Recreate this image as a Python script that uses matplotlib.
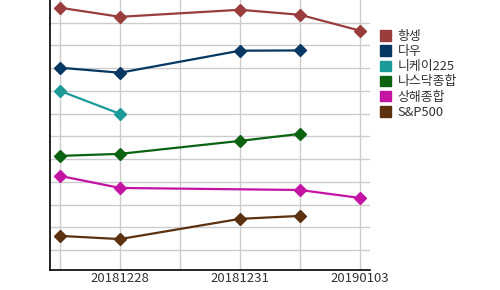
import numpy as np
import matplotlib
matplotlib.use("Agg")
import matplotlib.pyplot as plt
from matplotlib.patches import Patch

plt.rcParams['font.family'] = ['Noto Sans CJK KR', 'DejaVu Sans']

dates = ["20181227", "20181228", "20181230", "20181231", "20190102", "20190103"]
names = ["항셍", "다우", "니케이225", "나스닥종합", "상해종합", "S&P500"]
colors = ["#993d3d", "#073763", "#1c9a9a", "#0b6311", "#c414a4", "#5c3110"]

nan = np.nan
hangseng = [11.66, 11.26, nan, 11.57, 11.35, 10.65]
dow = [9.02, 8.80, nan, 9.77, 9.78, nan]
nikkei = [8.00, 6.99, nan, nan, nan, nan]
nasdaq = [5.14, 5.23, nan, 5.80, 6.11, nan]
shanghai = [4.26, 3.73, nan, nan, 3.64, 3.29]
sp500 = [1.62, 1.48, nan, 2.37, 2.50, nan]
series = [hangseng, dow, nikkei, nasdaq, shanghai, sp500]

fig = plt.figure(figsize=(5, 2.9), dpi=100)
ax = fig.add_axes([0.1, 0.069, 0.64, 0.931])

x = np.arange(len(dates))
for vals, c in zip(series, colors):
    v = np.array(vals, dtype=float)
    m = ~np.isnan(v)
    ax.plot(x[m], v[m], color=c, lw=1.6, marker="D", ms=6, zorder=3)

ax.set_xlim(-0.167, 5.167)
ax.set_ylim(0.12, 12.0)
ax.set_xticks(x)
ax.set_xticklabels([d if i % 2 == 1 else "" for i, d in enumerate(dates)],
                   fontsize=9.5, color="#333333")
ax.set_yticks(np.arange(1, 12))
ax.set_yticklabels([])
ax.tick_params(length=0, pad=1.5)
ax.grid(True, color="#cccccc", lw=1)
ax.set_axisbelow(True)
for s in ["top", "right"]:
    ax.spines[s].set_visible(False)
ax.spines["left"].set_color("black")
ax.spines["bottom"].set_color("black")
ax.spines["left"].set_linewidth(1.2)
ax.spines["bottom"].set_linewidth(1.2)

handles = [Patch(facecolor=c, edgecolor=c) for c in colors]
fig.legend(handles, names, loc="upper left", bbox_to_anchor=(0.76, 0.897),
           frameon=False, fontsize=9.3, handlelength=0.85, handleheight=0.85,
           handletextpad=0.5, labelspacing=0.17, labelcolor="#333333",
           borderpad=0, borderaxespad=0)

fig.savefig("out.png", dpi=100)
